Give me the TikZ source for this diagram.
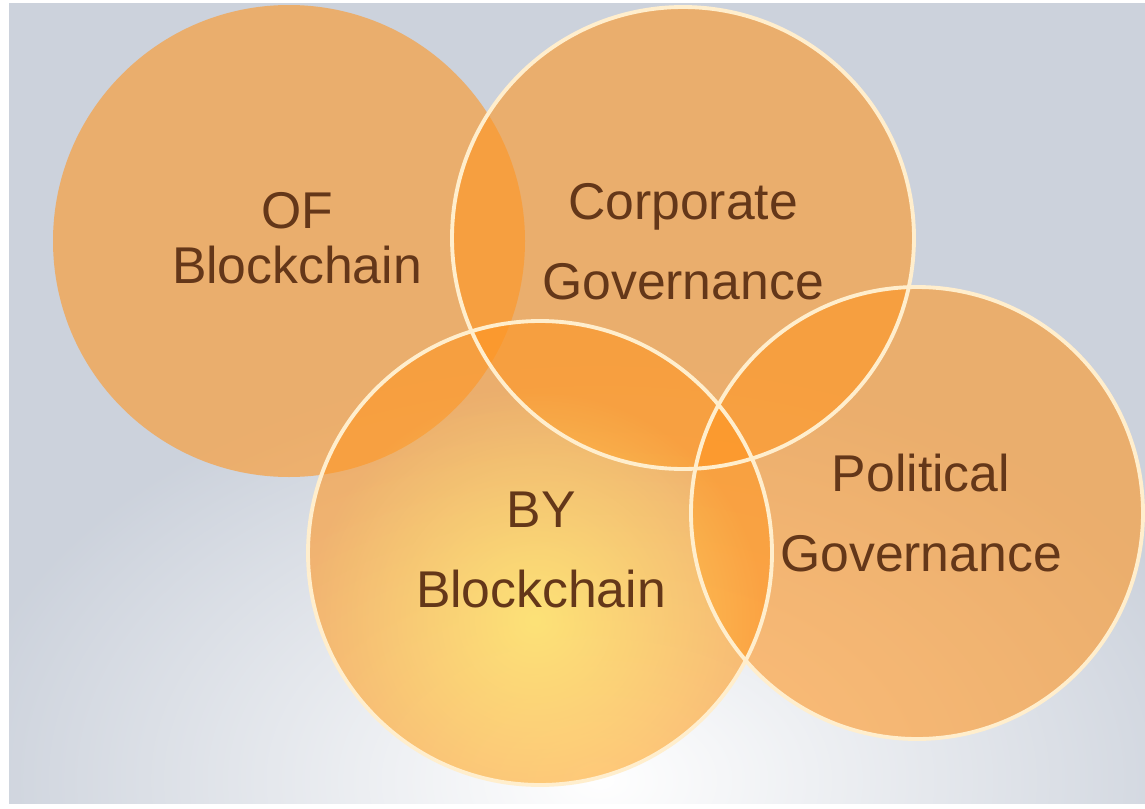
\documentclass[tikz,border=0pt]{standalone}
\usepackage{fontspec}
\setmainfont{Liberation Sans}
\usetikzlibrary{fadings}
\definecolor{slidebg}{RGB}{204,210,220}
\definecolor{discorange}{RGB}{255,150,35}
\definecolor{rim}{RGB}{255,238,205}
\definecolor{ink}{RGB}{100,55,25}
\definecolor{glowy}{RGB}{255,240,120}
\tikzfading[name=softglow, inner color=transparent!0, outer color=transparent!100]
\tikzset{
  disc/.style={fill=discorange, fill opacity=0.6},
  rimline/.style={draw=rim, line width=1.1pt},
  lbl/.style={text=ink, align=center, font=\fontsize{14.7}{22.8}\selectfont},
}
\begin{document}
\begin{tikzpicture}[x=0.01cm,y=-0.01cm]
         \useasboundingbox (0,0) rectangle (1145,809);
         \clip (0,0) rectangle (1145,809);
         \fill[white] (0,0) rectangle (1145,809);
         \fill[slidebg] (9,3) rectangle (1145,804);
         \fill[white, path fading=softglow] (600,780) ellipse [x radius=650, y radius=420];
         \coordinate (ofc) at (289,241);
         \coordinate (corpc) at (683,238);
         \coordinate (byc) at (540,553);
         \coordinate (polc) at (917,513);
         \fill[disc] (ofc) circle [radius=236];
         \fill[disc] (corpc) circle [radius=231];
         \fill[disc] (byc) circle [radius=232];
         \fill[disc] (polc) circle [radius=226];
         \begin{scope}
            \clip (byc) circle [radius=232];
            \fill[glowy, fill opacity=0.75, path fading=softglow] (535,620) circle [radius=230];
         \end{scope}
         \draw[rimline] (corpc) circle [radius=231];
         \draw[rimline] (byc) circle [radius=232];
         \draw[rimline] (polc) circle [radius=226];
         \node[lbl, font=\fontsize{14.7}{15.6}\selectfont] (of) at (297,238) {OF\\Blockchain};
         \node[lbl] (corp) at (683,242) {Corporate\\Governance};
         \node[lbl] (by) at (541,550) {BY\\Blockchain};
         \node[lbl] (pol) at (921,513) {Political\\Governance};
      \end{tikzpicture}
\end{document}
